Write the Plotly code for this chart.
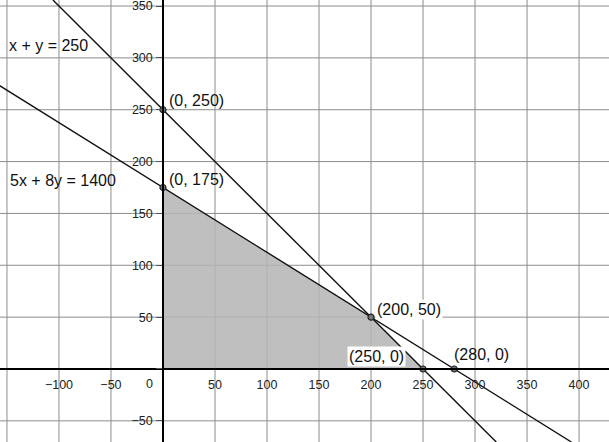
import plotly.graph_objects as go

# ---- data ----
x_range = [-156.7, 428.8]
y_range = [-70.4, 355.8]

x_tick_vals = [-150, -100, -50, 0, 50, 100, 150, 200, 250, 300, 350, 400]
x_tick_text = ["", "\u2212100", "\u221250", "", "50", "100", "150", "200", "250", "300", "350", "400"]
y_tick_vals = [-50, 0, 50, 100, 150, 200, 250, 300, 350]
y_tick_text = ["\u221250", "", "50", "100", "150", "200", "250", "300", "350"]

# lines a*x + b*y = c
line_a = [1, 5]
line_b = [1, 8]
line_c = [250, 1400]
line_labels = ["x + y = 250", "5x + 8y = 1400"]

# feasible region vertices
region_x = [0, 0, 200, 250]
region_y = [0, 175, 50, 0]

# labelled points
pt_x = [0, 0, 200, 250, 280]
pt_y = [250, 175, 50, 0, 0]
pt_labels = ["(0, 250)", "(0, 175)", "(200, 50)", "(250, 0)", "(280, 0)"]

FONT = "Liberation Sans, Arial, sans-serif"
GRID = "#8c8c8c"

fig = go.Figure()

# grid lines drawn from the tick arrays (plotly drops the ones near the edges)
for v in x_tick_vals:
    fig.add_shape(type="line", xref="x", yref="paper", x0=v, x1=v, y0=0, y1=1,
                  line=dict(color=GRID, width=1), layer="below")
for v in y_tick_vals:
    fig.add_shape(type="line", xref="paper", yref="y", x0=0, x1=1, y0=v, y1=v,
                  line=dict(color=GRID, width=1), layer="below")

fig.add_trace(go.Scatter(
    x=region_x + [region_x[0]], y=region_y + [region_y[0]],
    mode="lines", fill="toself", fillcolor="rgba(181,181,181,0.86)",
    line=dict(width=0), hoverinfo="skip", showlegend=False))

for a, b, c in zip(line_a, line_b, line_c):
    ys = [y_range[0], y_range[1]]
    xs = [(c - b * y) / a for y in ys]
    fig.add_trace(go.Scatter(x=xs, y=ys, mode="lines",
                             line=dict(color="#111111", width=1.4),
                             hoverinfo="skip", showlegend=False))

fig.add_trace(go.Scatter(
    x=pt_x, y=pt_y, mode="markers",
    marker=dict(size=6, color="#777777", line=dict(color="#222222", width=1.2)),
    hoverinfo="skip", showlegend=False))

# equation labels
fig.add_annotation(x=-150, y=311.5, text=line_labels[0], showarrow=False,
                   xanchor="left", yanchor="middle", font=dict(family=FONT, size=16, color="#111"))
fig.add_annotation(x=-149, y=181.3, text=line_labels[1], showarrow=False,
                   xanchor="left", yanchor="middle", font=dict(family=FONT, size=16, color="#111"))

# point labels: (xshift, yshift, bg)
offsets = [(4, 9, None), (4, 8.5, None), (4, 8, "white"), (-76, 12.5, "white"), (-2, 14, None)]
for px, py, lab, (dx, dy, bg) in zip(pt_x, pt_y, pt_labels, offsets):
    fig.add_annotation(x=px, y=py, text=lab, showarrow=False,
                       xanchor="left", yanchor="middle", xshift=dx, yshift=dy,
                       bgcolor=bg if bg else "rgba(0,0,0,0)", borderpad=1,
                       font=dict(family=FONT, size=16, color="#111"))

# origin label
fig.add_annotation(x=0, y=0, text="0", showarrow=False, xanchor="right", yanchor="top",
                   xshift=-8, yshift=-6, font=dict(family=FONT, size=12.5, color="#222"))

ypos = (0 - x_range[0]) / (x_range[1] - x_range[0])
xpos = (0 - y_range[0]) / (y_range[1] - y_range[0])

fig.update_layout(
    width=609, height=442,
    margin=dict(l=0, r=0, t=0, b=0, autoexpand=False),
    paper_bgcolor="white", plot_bgcolor="white",
    font=dict(family=FONT, size=12.5, color="#222"),
    xaxis=dict(range=x_range, tickvals=x_tick_vals, ticktext=x_tick_text,
               showgrid=False,
               zeroline=False, showline=True, linecolor="#000000", linewidth=1.5,
               anchor="free", position=xpos, ticks="", ticklabelstandoff=4,
               automargin=False, ticklabeloverflow="allow",
               tickfont=dict(family=FONT, size=12.5, color="#222"), fixedrange=True),
    yaxis=dict(range=y_range, tickvals=y_tick_vals, ticktext=y_tick_text,
               showgrid=False,
               zeroline=False, showline=True, linecolor="#000000", linewidth=1.5,
               anchor="free", position=ypos, ticks="outside", ticklen=6, tickcolor="#555",
               ticklabelstandoff=1, automargin=False, ticklabeloverflow="allow",
               tickfont=dict(family=FONT, size=12.5, color="#222"), fixedrange=True),
)

fig.write_html("out.html", config={"displayModeBar": False},
               post_script="document.body.style.margin='0';document.body.style.overflow='hidden';")
